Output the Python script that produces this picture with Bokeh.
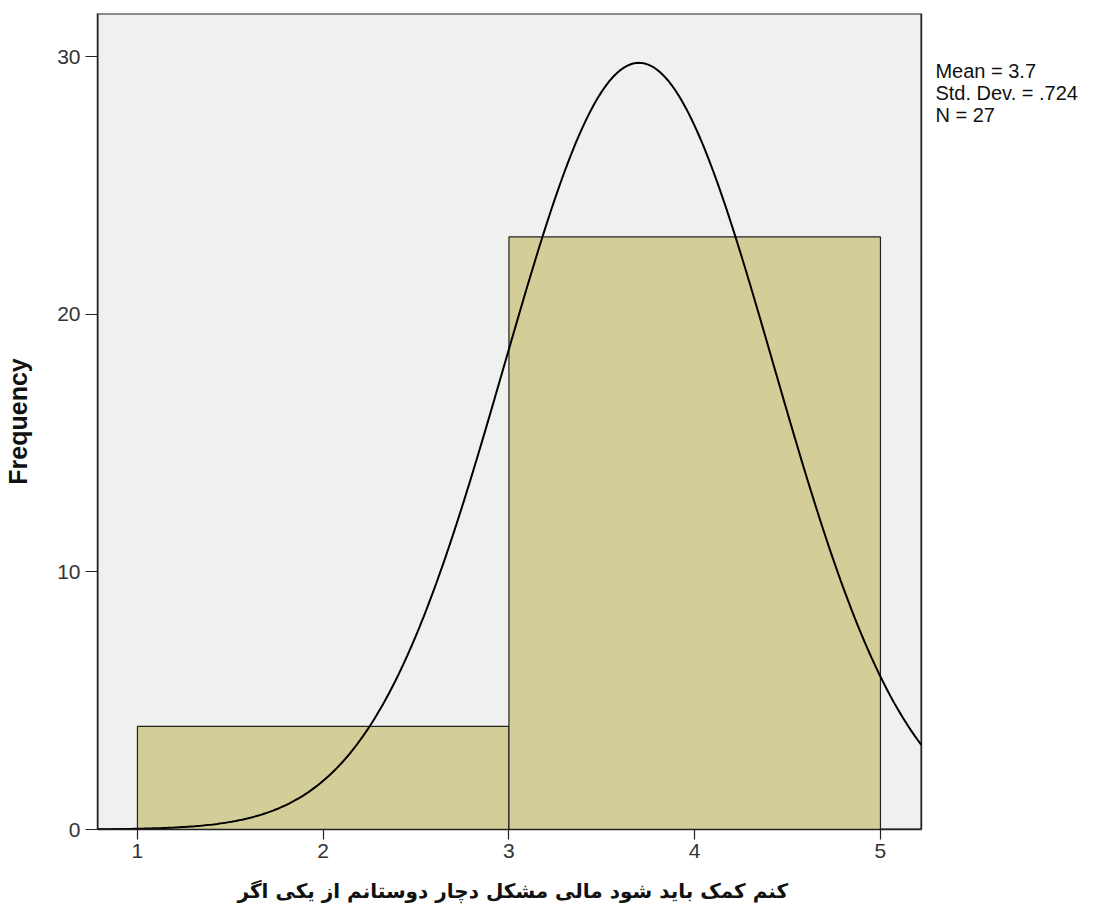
import numpy as np
from bokeh.plotting import figure
from bokeh.models import FixedTicker, ColumnDataSource, Title
from bokeh.core.properties import value
from bokeh.embed import file_html
from bokeh.resources import INLINE

# Data
bin_left = [1, 3]
bin_right = [3, 5]
counts = [4, 23]
mean_val = 3.7
std_val = 0.724
n_val = 27
x_ticks = [1, 2, 3, 4, 5]
y_ticks = [0, 10, 20, 30]
x_label = "کنم کمک باید شود مالی مشکل دچار دوستانم از یکی اگر"
y_label = "Frequency"
stats_text = "Mean = 3.7\nStd. Dev. = .724\nN = 27"

# Plot-area extent (data units) and full frame extent (frame continues to the right for the stats text)
X0, XR = 0.785, 5.22
Y0, Y1 = 0.0, 31.67
X1 = 6.147

p = figure(width=1093, height=920, output_backend="svg", toolbar_location=None,
           x_range=(X0, X1), y_range=(Y0, Y1),
           min_border_left=97, min_border_right=0, min_border_top=13, min_border_bottom=91)

p.background_fill_color = "white"
p.border_fill_color = "white"
p.outline_line_color = None
p.xgrid.visible = False
p.ygrid.visible = False

# Grey plotting area with its frame
p.quad(left=[X0], right=[XR], bottom=[Y0], top=[Y1],
       fill_color="#F0F0F0", line_color="#222222", line_width=1.8)

src = ColumnDataSource(dict(left=bin_left, right=bin_right, top=counts, bottom=[0] * len(counts)))
p.quad(left="left", right="right", top="top", bottom="bottom", source=src,
       fill_color="#D3CE97", line_color="#222222", line_width=1.2)

# Normal curve defined by the reported statistics
bw = bin_right[0] - bin_left[0]
xs = np.linspace(X0, XR, 400)
ys = n_val * bw / (std_val * np.sqrt(2 * np.pi)) * np.exp(-0.5 * ((xs - mean_val) / std_val) ** 2)
p.line(xs, ys, line_color="black", line_width=2)

for ax in (p.xaxis[0], p.yaxis[0]):
    ax.axis_line_color = "#222222"
    ax.axis_line_width = 1.5
    ax.major_tick_line_color = "#222222"
    ax.major_tick_line_width = 1.2
    ax.major_tick_in = 0
    ax.minor_tick_line_color = None
    ax.major_label_text_font = "Liberation Sans"
    ax.major_label_text_font_size = "21px"
    ax.major_label_text_color = "#333333"
    ax.axis_label_text_font_style = "bold"
    ax.axis_label_text_color = "#111111"

p.xaxis.bounds = (X0, XR)
p.xaxis.ticker = FixedTicker(ticks=x_ticks)
p.yaxis.ticker = FixedTicker(ticks=y_ticks)
p.xaxis.major_tick_out = 10
p.yaxis.major_tick_out = 12
p.xaxis.major_label_standoff = 4
p.yaxis.major_label_standoff = 5
p.yaxis.axis_label = y_label
p.yaxis.axis_label_text_font = "Liberation Sans"
p.yaxis.axis_label_text_font_size = "25px"
p.yaxis.axis_label_standoff = 22

# X axis title below, positioned under the plotting area
xt = Title(text=x_label, align="left", offset=140, standoff=33,
           text_font="DejaVu Sans", text_font_size="20px", text_font_style="bold",
           text_color="#111111")
p.add_layout(xt, "below")

# Statistics text to the right of the plotting area
p.text(x=[5.296], y=[Y1], text=[stats_text], y_offset=46,
       text_baseline="top", text_align="left",
       text_font=value("Liberation Sans"), text_font_size="20px",
       text_color="#111111", text_line_height=1.0)

open("out.html", "w").write(file_html(p, INLINE))
